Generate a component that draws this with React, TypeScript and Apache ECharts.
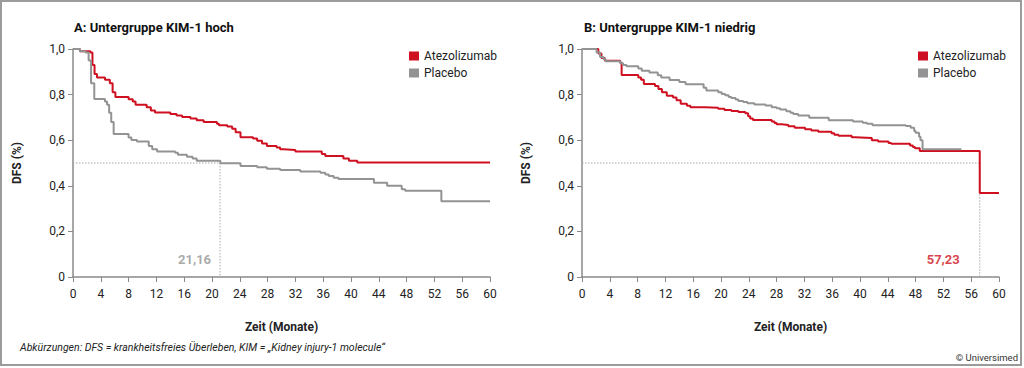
import React, { useEffect, useRef } from "react";
import * as echarts from "echarts";

// Kaplan-Meier estimates: [month, DFS]
const hochAtezo: number[][] = [
  [0, 1], [1, 0.99], [2.5, 0.985], [2.8, 0.93], [3.1, 0.89], [3.45, 0.875], [4.6, 0.865], [5.3, 0.85],
  [5.7, 0.81], [6.1, 0.79], [8, 0.78], [8.6, 0.77], [9, 0.755], [10.6, 0.745], [11.2, 0.73], [11.8, 0.722],
  [14, 0.715], [14.9, 0.708], [15.7, 0.702], [16.9, 0.695], [17.8, 0.688], [18.8, 0.68], [20.7, 0.672],
  [21, 0.666], [22.2, 0.66], [22.9, 0.65], [23.4, 0.635], [24.1, 0.613], [25.9, 0.607], [26.5, 0.598],
  [27.2, 0.585], [27.9, 0.575], [29.3, 0.568], [29.8, 0.56], [30.3, 0.557], [32, 0.55], [35.8, 0.54],
  [36.3, 0.531], [38.9, 0.52], [39.7, 0.51], [40.9, 0.502], [60, 0.502],
];
const hochPlacebo: number[][] = [
  [0, 1], [1, 0.99], [1.8, 0.985], [2.25, 0.95], [2.6, 0.85], [3.06, 0.781], [4.6, 0.77], [4.9, 0.755],
  [5.2, 0.72], [5.5, 0.68], [5.85, 0.627], [8, 0.612], [8.4, 0.601], [9.2, 0.594], [10.9, 0.575],
  [11.4, 0.56], [12.1, 0.55], [14.7, 0.545], [15.1, 0.536], [16.4, 0.527], [17.2, 0.52], [17.8, 0.51],
  [21.2, 0.499], [24.1, 0.487], [26.5, 0.481], [27.9, 0.475], [29.8, 0.469], [32.7, 0.463], [35.6, 0.457],
  [36.3, 0.45], [36.8, 0.443], [37.5, 0.435], [38.2, 0.43], [43.3, 0.413], [45.2, 0.4], [47.3, 0.385],
  [47.8, 0.378], [53, 0.332], [60, 0.332],
];
const niedrigAtezo: number[][] = [
  [0, 1], [2.35, 0.98], [2.8, 0.96], [3.3, 0.948], [5.5, 0.94], [5.7, 0.886], [8.1, 0.875], [8.5, 0.865],
  [8.9, 0.847], [10.5, 0.838], [11, 0.825], [11.5, 0.81], [12.2, 0.795], [13.1, 0.787], [13.6, 0.775],
  [14.2, 0.76], [15.1, 0.751], [15.6, 0.745], [17.7, 0.742], [19.6, 0.738], [20.5, 0.733], [21.5, 0.728],
  [22.5, 0.724], [23.5, 0.718], [23.9, 0.705], [24.2, 0.695], [24.6, 0.689], [27.3, 0.682], [27.7, 0.675],
  [28, 0.67], [28.7, 0.667], [29.7, 0.661], [30.6, 0.655], [32.1, 0.648], [33, 0.642], [34, 0.637],
  [35.9, 0.63], [36.3, 0.624], [36.9, 0.619], [38.8, 0.613], [39.3, 0.61], [41.7, 0.6], [42.6, 0.594],
  [44.1, 0.588], [44.5, 0.584], [47.2, 0.577], [47.6, 0.57], [47.9, 0.565], [48.6, 0.553], [57.23, 0.368],
  [60, 0.368],
];
const niedrigPlacebo: number[][] = [
  [0, 1], [2.1, 0.985], [2.6, 0.965], [3.1, 0.955], [3.4, 0.946], [5.5, 0.938], [5.9, 0.93], [6.4, 0.924],
  [8.1, 0.915], [8.6, 0.905], [9.7, 0.897], [10.9, 0.885], [11.4, 0.875], [12.6, 0.864], [14, 0.855],
  [14.9, 0.845], [17.5, 0.83], [17.9, 0.818], [19.6, 0.81], [20.1, 0.803], [20.6, 0.797], [21.1, 0.79],
  [21.5, 0.785], [22.1, 0.778], [22.5, 0.772], [23.2, 0.767], [23.8, 0.762], [24.8, 0.757], [26.4, 0.752],
  [27.3, 0.745], [28, 0.74], [28.5, 0.735], [29.4, 0.727], [30, 0.72], [30.4, 0.715], [31.1, 0.708],
  [32.7, 0.698], [35.5, 0.688], [39, 0.682], [40.4, 0.677], [41, 0.672], [41.8, 0.666], [46.6, 0.662],
  [47.3, 0.655], [47.8, 0.64], [48, 0.633], [48.5, 0.615], [48.7, 0.6], [49, 0.56], [54.6, 0.56],
];

const medians = [21.16, 57.23];
const medianLabels = ["21,16", "57,23"];
const titles = ["A: Untergruppe KIM-1 hoch", "B: Untergruppe KIM-1 niedrig"];
const seriesNames = ["Atezolizumab", "Placebo"];
const xTicks = { min: 0, max: 60, interval: 4 };
const yTicks = { min: 0, max: 1, interval: 0.2 };
const footnote = "Abkürzungen: DFS = krankheitsfreies Überleben, KIM = „Kidney injury-1 molecule“";
const copyright = "© Universimed";

const RED = "#cf1020";
const GRAY = "#939393";
const AXIS = "#8a8a8a";
const FONT = "Roboto, sans-serif";

export default function App() {
  const ref = useRef<HTMLDivElement>(null);
  useEffect(() => {
    const chart = echarts.init(ref.current!, undefined, { renderer: "svg" });
    const gridLefts = [73, 582];
    const panels = [
      { atezo: hochAtezo, placebo: hochPlacebo, labelColor: GRAY, labelDist: 9 },
      { atezo: niedrigAtezo, placebo: niedrigPlacebo, labelColor: RED, labelDist: 20 },
    ];
    const yFmt = (v: number) => (v === 0 ? "0" : v.toFixed(1).replace(".", ","));
    const series: any[] = [];
    panels.forEach((p, i) => {
      const m = medians[i];
      series.push({
        type: "line", xAxisIndex: i, yAxisIndex: i, silent: true, symbol: "none", z: 1,
        data: [[0, 0.5], [m, 0.5], [m, 0]],
        lineStyle: { color: "#a8a8a8", width: 1, type: [1.5, 1.5] },
      });
      series.push({
        name: seriesNames[0], type: "line", step: "end", xAxisIndex: i, yAxisIndex: i, symbol: "none", z: 3,
        data: p.atezo, color: RED, lineStyle: { color: RED, width: 2 },
      });
      series.push({
        name: seriesNames[1], type: "line", step: "end", xAxisIndex: i, yAxisIndex: i, symbol: "none", z: 4,
        data: p.placebo, color: GRAY, lineStyle: { color: GRAY, width: 2 },
      });
      series.push({
        type: "scatter", xAxisIndex: i, yAxisIndex: i, silent: true, symbolSize: 0, z: 5,
        data: [[m, 0]],
        label: {
          show: true, position: "left", distance: p.labelDist, offset: [0, -18],
          formatter: medianLabels[i], color: p.labelColor, fontWeight: "bold", fontSize: 13, fontFamily: FONT,
        },
      });
    });
    chart.setOption({
      animation: false,
      grid: gridLefts.map((l) => ({ left: l, top: 49, width: 417, height: 228 })),
      xAxis: gridLefts.map((_, i) => ({
        type: "value", gridIndex: i, ...xTicks,
        name: "Zeit (Monate)", nameLocation: "middle", nameGap: 44,
        nameTextStyle: { fontWeight: "bold", fontSize: 12, color: "#222", fontFamily: FONT },
        axisLine: { show: true, lineStyle: { color: AXIS, width: 1.5 } },
        axisTick: { show: true, length: 5, lineStyle: { color: AXIS } },
        axisLabel: { fontSize: 12, color: "#222", margin: 11, fontFamily: FONT },
        splitLine: { show: false },
      })),
      yAxis: gridLefts.map((_, i) => ({
        type: "value", gridIndex: i, ...yTicks,
        name: "DFS (%)", nameLocation: "middle", nameGap: 50, nameRotate: 90,
        nameTextStyle: { fontWeight: "bold", fontSize: 12, color: "#222", fontFamily: FONT },
        axisLine: { show: true, lineStyle: { color: AXIS, width: 1.5 } },
        axisTick: { show: true, length: 5, lineStyle: { color: AXIS } },
        axisLabel: { fontSize: 12, color: "#222", margin: 8, formatter: yFmt, fontFamily: FONT },
        splitLine: { show: false },
      })),
      legend: [404, 913].map((l) => ({
        data: seriesNames, orient: "vertical", left: l, top: 45, icon: "rect",
        itemWidth: 10, itemHeight: 9, itemGap: 5, selectedMode: false,
        textStyle: { fontSize: 12, color: "#222", fontFamily: FONT },
      })),
      series,
      graphic: [
        { type: "rect", shape: { x: 1, y: 1, width: 1020, height: 364 }, style: { fill: "none", stroke: "#9b9b9b", lineWidth: 2 }, silent: true },
        ...titles.map((t, i) => ({
          type: "text", x: [74, 584][i], y: 27,
          style: { text: t, fontSize: 13, fontWeight: "bold", fill: "#111", fontFamily: FONT, verticalAlign: "middle" },
        })),
        { type: "text", x: 20, y: 347, style: { text: footnote, fontSize: 10.5, fontStyle: "italic", fill: "#222", fontFamily: FONT, verticalAlign: "middle" } },
        { type: "text", x: 1018, y: 357, style: { text: copyright, fontSize: 9.5, fill: "#333", fontFamily: FONT, align: "right", verticalAlign: "middle" } },
      ],
    });
    return () => chart.dispose();
  }, []);
  return <div ref={ref} style={{ position: "fixed", left: 0, top: 0, width: 1024, height: 368, background: "#fff" }} />;
}
